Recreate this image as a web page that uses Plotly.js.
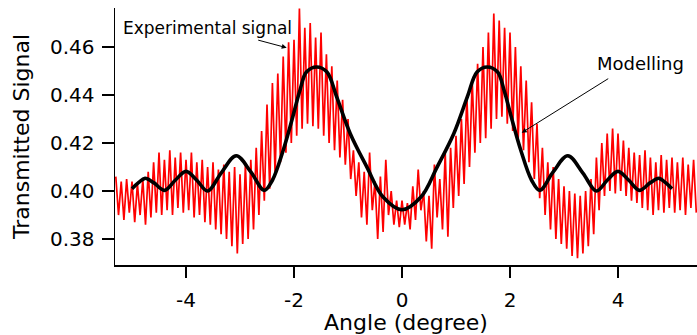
<!DOCTYPE html>
<html>
<head>
<meta charset="utf-8">
<script src="https://cdn.plot.ly/plotly-3.0.1.min.js"></script>
<style>
html,body{margin:0;padding:0;background:#fff;}
#chart{width:697px;height:335px;}
</style>
</head>
<body>
<div id="chart"></div>
<script>
// Experimental signal: alternating fringe maxima / minima sampled every 0.05 degree from -5.30
const signalStart = -5.30;
const signalStep = 0.05;
const signalValue = [
0.406,0.390, 0.404,0.388, 0.405,0.391, 0.404,0.387, 0.403,0.390,
0.405,0.386, 0.408,0.389, 0.412,0.391, 0.416,0.390, 0.413,0.392,
0.417,0.390, 0.414,0.393, 0.416,0.391, 0.413,0.392, 0.416,0.389,
0.412,0.390, 0.413,0.387, 0.410,0.386, 0.412,0.384, 0.409,0.382,
0.411,0.380, 0.408,0.377, 0.410,0.374, 0.407,0.378, 0.411,0.380,
0.413,0.384, 0.418,0.390, 0.425,0.396, 0.436,0.401, 0.445,0.407,
0.449,0.412, 0.456,0.416, 0.462,0.420, 0.463,0.423, 0.476,0.426,
0.468,0.428, 0.470,0.427, 0.464,0.426, 0.466,0.423, 0.457,0.420,
0.452,0.417, 0.446,0.414, 0.438,0.411, 0.430,0.405, 0.417,0.398,
0.412,0.389, 0.408,0.386, 0.416,0.392, 0.404,0.380, 0.406,0.383,
0.413,0.390, 0.400,0.386, 0.396,0.385, 0.396,0.386, 0.395,0.384,
0.402,0.388, 0.409,0.392, 0.400,0.379, 0.398,0.376, 0.411,0.389,
0.405,0.384, 0.416,0.381, 0.418,0.393, 0.423,0.398, 0.430,0.403,
0.440,0.410, 0.446,0.416, 0.453,0.420, 0.460,0.422, 0.466,0.426,
0.474,0.430, 0.471,0.431, 0.468,0.428, 0.466,0.425, 0.460,0.421,
0.452,0.417, 0.446,0.412, 0.437,0.405, 0.428,0.397, 0.418,0.390,
0.412,0.384, 0.410,0.380, 0.405,0.378, 0.402,0.376, 0.400,0.373,
0.399,0.372, 0.398,0.374, 0.400,0.377, 0.405,0.382, 0.414,0.392,
0.420,0.398, 0.424,0.400, 0.426,0.399, 0.424,0.400, 0.421,0.398,
0.418,0.396, 0.416,0.395, 0.415,0.393, 0.417,0.392, 0.414,0.390,
0.412,0.392, 0.415,0.391, 0.413,0.393, 0.414,0.391, 0.412,0.392,
0.414,0.390, 0.411,0.393, 0.413,0.391
];

// Modelling curve (read at its turning points and flanks)
const modelAngle = [-5.0,-4.88,-4.76,-4.6,-4.4,-4.2,-4.0,-3.8,-3.6,-3.35,-3.07,-2.8,-2.55,-2.4,-2.2,-2.04,-1.89,-1.77,-1.58,-1.39,-1.21,-0.96,-0.65,-0.35,0,
  0.35,0.65,0.96,1.21,1.39,1.58,1.77,1.89,2.04,2.2,2.4,2.55,2.8,3.07,3.35,3.6,3.8,4.0,4.2,4.4,4.6,4.76,4.88,5.0];
const modelValue = [0.401,0.4035,0.4053,0.4035,0.4003,0.4045,0.4082,0.4045,0.4000,0.4075,0.4147,0.408,0.4003,0.4045,0.417,0.4295,0.442,0.4496,0.4517,0.4496,0.4392,0.424,0.410,0.3975,0.3922,
  0.3975,0.410,0.424,0.4392,0.4496,0.4517,0.4496,0.442,0.4295,0.417,0.4045,0.4003,0.408,0.4147,0.4075,0.4000,0.4045,0.4082,0.4045,0.4003,0.4035,0.4053,0.4035,0.401];

const xTickVals = [-4,-2,0,2,4];
const xTickText = ['-4','-2','0','2','4'];
const yTickVals = [0.38,0.40,0.42,0.44,0.46];
const yTickText = ['0.38','0.40','0.42','0.44','0.46'];

const FONT = 'DejaVu Sans, Verdana, sans-serif';

const traces = [
  {
    type: 'scatter', mode: 'lines',
    x0: signalStart, dx: signalStep, y: signalValue,
    line: {color: '#ff0000', width: 1.7},
    hoverinfo: 'skip', showlegend: false
  },
  {
    type: 'scatter', mode: 'lines',
    x: modelAngle, y: modelValue,
    line: {color: '#000000', width: 3.6, shape: 'spline', smoothing: 1.0},
    hoverinfo: 'skip', showlegend: false
  }
];

const layout = {
  width: 697, height: 335,
  margin: {l: 115, r: 0, t: 8, b: 70},
  paper_bgcolor: '#ffffff', plot_bgcolor: '#ffffff',
  font: {family: FONT, color: '#000', size: 20},
  showlegend: false,
  xaxis: {
    range: [-5.315, 5.463],
    tickvals: xTickVals, ticktext: xTickText,
    ticks: 'outside', ticklen: 11, tickwidth: 1.5, tickcolor: '#000',
    ticklabelstandoff: 5,
    showline: true, linecolor: '#000', linewidth: 1.5,
    showgrid: false, zeroline: false,
    tickfont: {family: FONT, size: 20, color: '#000'},
    title: {text: 'Angle (degree)', font: {family: FONT, size: 22, color: '#000'}, standoff: 0}
  },
  yaxis: {
    range: [0.3692, 0.47625],
    tickvals: yTickVals, ticktext: yTickText,
    ticks: 'outside', ticklen: 12, tickwidth: 1.5, tickcolor: '#000',
    ticklabelstandoff: 3,
    showline: true, linecolor: '#000', linewidth: 1.5,
    showgrid: false, zeroline: false,
    tickfont: {family: FONT, size: 20, color: '#000'},
    title: {text: 'Transmitted Signal', font: {family: FONT, size: 22, color: '#000'}, standoff: 14}
  },
  annotations: [
    {x: -3.61, y: 0.4679, xref: 'x', yref: 'y', text: 'Experimental signal', showarrow: false,
     font: {family: FONT, size: 17, color: '#000'}},
    {x: -2.135, y: 0.4597, xref: 'x', yref: 'y', text: '', showarrow: true,
     ax: -30, ay: -8, arrowhead: 2, arrowsize: 1, arrowwidth: 1, arrowcolor: '#000'},
    {x: 4.41, y: 0.4533, xref: 'x', yref: 'y', text: 'Modelling', showarrow: false,
     font: {family: FONT, size: 18, color: '#000'}},
    {x: 2.217, y: 0.4243, xref: 'x', yref: 'y', text: '', showarrow: true,
     ax: 88, ay: -55, arrowhead: 2, arrowsize: 1, arrowwidth: 1, arrowcolor: '#000'}
  ]
};

Plotly.newPlot('chart', traces, layout, {displayModeBar: false, staticPlot: true});
</script>
</body>
</html>
